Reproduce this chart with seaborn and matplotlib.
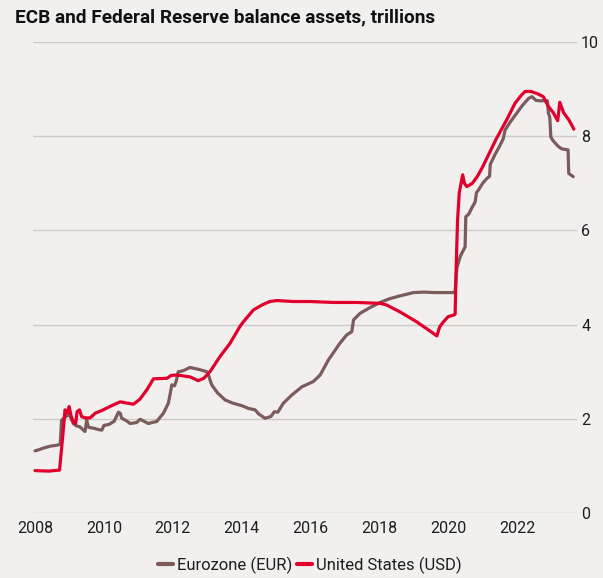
import numpy as np
import pandas as pd
import matplotlib
matplotlib.use("Agg")
import matplotlib.pyplot as plt
import seaborn as sns

# ---------------- data (decimal years, trillions) ----------------
eur_years = [2008.00, 2008.10, 2008.25, 2008.45, 2008.65, 2008.73, 2008.77, 2008.85, 2008.95, 2009.00,
             2009.05, 2009.11, 2009.20, 2009.30, 2009.45, 2009.50, 2009.55, 2009.70, 2009.85, 2009.94,
             2010.00, 2010.15, 2010.30, 2010.42, 2010.47, 2010.52, 2010.65, 2010.76, 2010.95, 2011.05,
             2011.29, 2011.45, 2011.53, 2011.65, 2011.73, 2011.87, 2011.93, 2011.97, 2012.05, 2012.10,
             2012.16, 2012.30, 2012.50, 2012.75, 2012.99, 2013.05, 2013.13, 2013.30, 2013.52, 2013.75,
             2014.00, 2014.20, 2014.39, 2014.50, 2014.68, 2014.85, 2014.95, 2015.05, 2015.21, 2015.45,
             2015.75, 2016.08, 2016.28, 2016.52, 2016.85, 2017.05, 2017.20, 2017.25, 2017.44, 2017.70,
             2018.02, 2018.30, 2018.60, 2018.99, 2019.30, 2019.60, 2019.96, 2020.15, 2020.20, 2020.25,
             2020.35, 2020.49, 2020.51, 2020.60, 2020.70, 2020.78, 2020.82, 2020.88, 2021.00, 2021.12,
             2021.20, 2021.22, 2021.35, 2021.50, 2021.60, 2021.65, 2021.80, 2022.00, 2022.15, 2022.33,
             2022.43, 2022.55, 2022.70, 2022.85, 2022.88, 2022.91, 2022.95, 2022.98, 2023.05, 2023.20,
             2023.30, 2023.48, 2023.50, 2023.63]
eur_values = [1.32, 1.34, 1.38, 1.42, 1.44, 1.46, 1.97, 2.02, 2.08, 2.09,
              2.00, 1.90, 1.85, 1.83, 1.73, 1.97, 1.82, 1.80, 1.77, 1.76,
              1.86, 1.88, 1.95, 2.14, 2.12, 2.01, 1.96, 1.90, 1.92, 1.99,
              1.90, 1.93, 1.94, 2.05, 2.12, 2.33, 2.55, 2.72, 2.70, 2.80,
              3.00, 3.02, 3.09, 3.05, 3.00, 2.90, 2.72, 2.55, 2.40, 2.33,
              2.28, 2.22, 2.19, 2.10, 2.01, 2.05, 2.15, 2.14, 2.33, 2.50,
              2.68, 2.79, 2.93, 3.25, 3.60, 3.78, 3.85, 4.10, 4.24, 4.35,
              4.47, 4.55, 4.61, 4.68, 4.69, 4.68, 4.68, 4.68, 4.71, 5.20,
              5.45, 5.65, 6.29, 6.35, 6.50, 6.60, 6.80, 6.86, 7.00, 7.10,
              7.15, 7.40, 7.60, 7.80, 7.95, 8.13, 8.30, 8.50, 8.65, 8.80,
              8.84, 8.76, 8.75, 8.76, 8.75, 8.49, 8.40, 7.98, 7.90, 7.78,
              7.73, 7.71, 7.21, 7.14]

usd_years = [2008.00, 2008.40, 2008.71, 2008.80, 2008.87, 2008.93, 2008.99, 2009.05, 2009.13, 2009.18,
             2009.22, 2009.29, 2009.35, 2009.45, 2009.60, 2009.75, 2009.95, 2010.20, 2010.47, 2010.70,
             2010.86, 2011.05, 2011.25, 2011.44, 2011.83, 2011.95, 2012.12, 2012.50, 2012.74, 2012.90,
             2013.08, 2013.37, 2013.66, 2013.95, 2014.05, 2014.34, 2014.60, 2014.82, 2015.02, 2015.50,
             2016.00, 2016.67, 2017.34, 2017.70, 2018.02, 2018.20, 2018.60, 2019.08, 2019.40, 2019.67,
             2019.75, 2019.85, 2020.00, 2020.15, 2020.20, 2020.23, 2020.27, 2020.32, 2020.42, 2020.47,
             2020.54, 2020.70, 2020.85, 2021.00, 2021.20, 2021.40, 2021.55, 2021.70, 2021.94, 2022.10,
             2022.23, 2022.40, 2022.60, 2022.76, 2022.91, 2023.05, 2023.18, 2023.24, 2023.35, 2023.50,
             2023.65]
usd_values = [0.90, 0.89, 0.91, 1.60, 2.19, 2.12, 2.26, 2.05, 1.91, 1.90,
              2.15, 2.19, 2.05, 2.02, 2.02, 2.12, 2.18, 2.27, 2.36, 2.33,
              2.31, 2.42, 2.62, 2.85, 2.86, 2.92, 2.93, 2.89, 2.81, 2.86,
              3.00, 3.32, 3.60, 3.96, 4.06, 4.31, 4.42, 4.49, 4.51, 4.49,
              4.49, 4.47, 4.47, 4.46, 4.45, 4.42, 4.27, 4.06, 3.90, 3.76,
              3.95, 4.05, 4.17, 4.20, 4.22, 5.20, 6.20, 6.80, 7.18, 7.00,
              6.93, 7.00, 7.15, 7.35, 7.65, 7.95, 8.15, 8.35, 8.70, 8.85,
              8.95, 8.95, 8.90, 8.84, 8.63, 8.50, 8.33, 8.72, 8.50, 8.35,
              8.15]

series_labels = ["Eurozone (EUR)", "United States (USD)"]
x_ticks = [2008, 2010, 2012, 2014, 2016, 2018, 2020, 2022]
y_ticks = [0, 2, 4, 6, 8, 10]
title = "ECB and Federal Reserve balance assets, trillions"

# ---------------- styling ----------------
BG = "#f2f0ee"
EUR_C = "#7b5b5c"
USD_C = "#e0002b"
GRID_C = "#cccac8"
TEXT_C = "#1e1e1e"

sns.set_theme(style="white")
plt.rcParams["font.family"] = ["Roboto", "DejaVu Sans"]

fig = plt.figure(figsize=(6.03, 5.78), dpi=100, facecolor=BG)
ax = fig.add_axes([33 / 603, 1 - 513 / 578, (577 - 33) / 603, (513 - 42) / 578])
ax.set_facecolor(BG)

eur_df = pd.DataFrame({"year": eur_years, "value": eur_values, "series": series_labels[0]})
usd_df = pd.DataFrame({"year": usd_years, "value": usd_values, "series": series_labels[1]})
df = pd.concat([eur_df, usd_df], ignore_index=True)

sns.lineplot(data=df, x="year", y="value", hue="series",
             palette={series_labels[0]: EUR_C, series_labels[1]: USD_C},
             estimator=None, sort=False, linewidth=2.3, ax=ax, legend=False)

ax.set_xlim(2007.94, 2023.74)
ax.set_ylim(0, 10)
ax.set_xlabel("")
ax.set_ylabel("")

for y in y_ticks:
    ax.axhline(y, color=GRID_C, linewidth=1.0, zorder=0)

for s in ax.spines.values():
    s.set_visible(False)

ax.yaxis.tick_right()
ax.set_yticks(y_ticks)
ax.set_yticklabels([str(v) for v in y_ticks])
ax.set_xticks(x_ticks)
ax.set_xticklabels([str(v) for v in x_ticks])
ax.tick_params(axis="y", length=0, pad=3, labelsize=11.5, labelcolor=TEXT_C)
ax.tick_params(axis="x", length=0, pad=6, labelsize=11.5, labelcolor=TEXT_C)

handles = [plt.Line2D([], [], color=EUR_C, linewidth=3),
           plt.Line2D([], [], color=USD_C, linewidth=3)]
fig.legend(handles, series_labels, loc="center", bbox_to_anchor=(310 / 603, 1 - 565 / 578),
           ncol=2, frameon=False, fontsize=12, handlelength=0.9, handletextpad=0.25,
           columnspacing=0.3, labelcolor=TEXT_C)

fig.text(15 / 603, 1 - 17 / 578, title, ha="left", va="center", fontsize=13.7,
         fontweight="bold", color="#111111")

fig.savefig("out.png", dpi=100, facecolor=BG)
